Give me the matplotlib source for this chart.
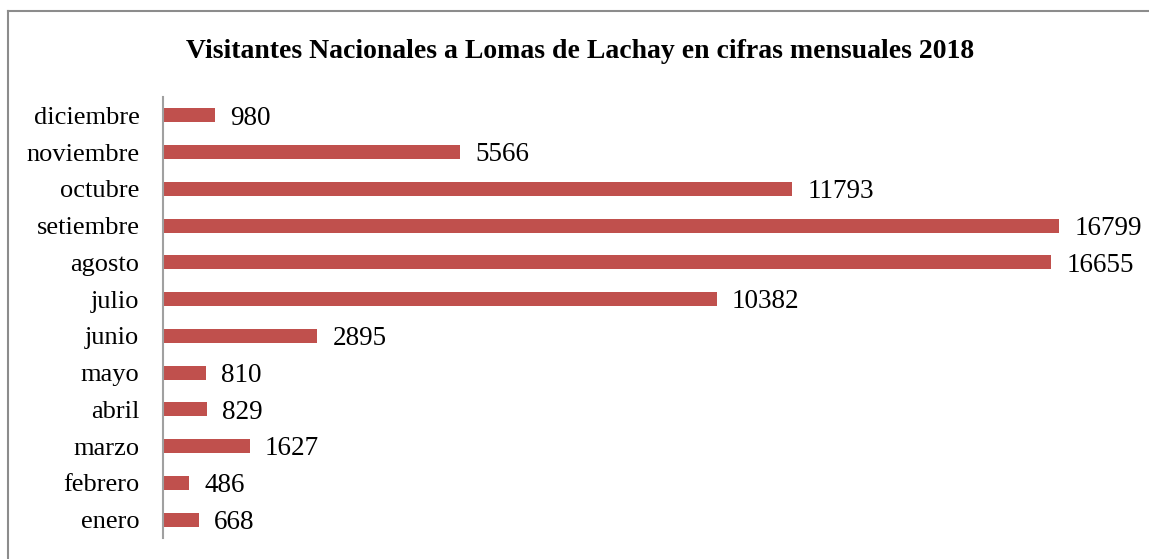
import matplotlib
matplotlib.use("Agg")
import matplotlib.pyplot as plt
from matplotlib.lines import Line2D

months = ["enero", "febrero", "marzo", "abril", "mayo", "junio", "julio",
          "agosto", "setiembre", "octubre", "noviembre", "diciembre"]
visitors = [668, 486, 1627, 829, 810, 2895, 10382, 16655, 16799, 11793, 5566, 980]
title = "Visitantes Nacionales a Lomas de Lachay en cifras mensuales 2018"

plt.rcParams['font.family'] = ['Liberation Serif', 'DejaVu Serif']

W, H = 1149, 559
fig = plt.figure(figsize=(W / 100, H / 100), dpi=100)
ax = fig.add_axes([163 / W, 21 / H, 960 / W, 441 / H])

bar_color = "#C0504D"
ax.barh(range(len(months)), visitors, height=0.38, color=bar_color)
ax.set_ylim(-0.5, len(months) - 0.5)
ax.set_xlim(0, 18000)
ax.set_yticks(range(len(months)))
ax.set_yticklabels(months, fontsize=19)
ax.tick_params(axis='y', length=0, pad=17)
ax.set_xticks([])
for s in ["top", "right", "bottom"]:
    ax.spines[s].set_visible(False)
ax.spines["left"].set_color("#A0A0A0")
ax.spines["left"].set_linewidth(1.5)

for i, v in enumerate(visitors):
    ax.annotate(str(v), xy=(v, i), xytext=(11, -2), textcoords="offset points",
                ha="left", va="center", fontsize=19.5)

fig.text(580 / W, (H - 51) / H, title, ha="center", va="center",
         fontsize=20, fontweight="bold")

# outer border (top and left visible)
fig.add_artist(Line2D([8 / W, 1.0], [(H - 11) / H, (H - 11) / H],
                      transform=fig.transFigure, color="#8C8C8C", lw=1.5))
fig.add_artist(Line2D([8 / W, 8 / W], [0, (H - 11) / H],
                      transform=fig.transFigure, color="#8C8C8C", lw=1.5))

fig.savefig("out.png", dpi=100)
